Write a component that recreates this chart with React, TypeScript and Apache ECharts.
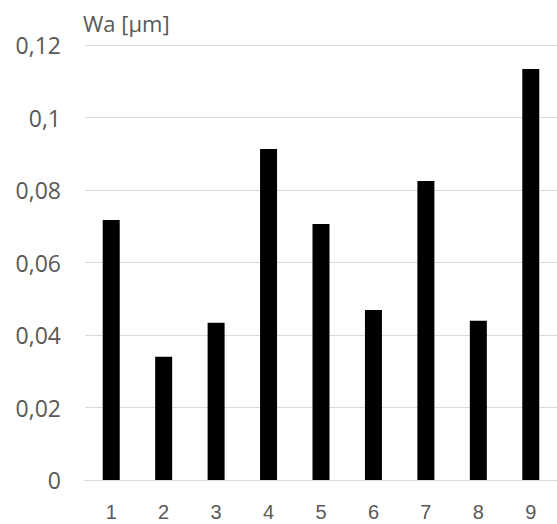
import React, { useEffect, useRef } from "react";
import * as echarts from "echarts";

const categories = ["1", "2", "3", "4", "5", "6", "7", "8", "9"];
const waValues = [0.0717, 0.034, 0.0434, 0.0913, 0.0706, 0.0469, 0.0825, 0.0439, 0.1134];
const yTicks = [0, 0.02, 0.04, 0.06, 0.08, 0.1, 0.12];
const axisTitle = "Wa [µm]";

const FONT = "'Open Sans', 'Noto Sans', sans-serif";
const TEXT_COLOR = "#595959";

export default function App() {
  const ref = useRef<HTMLDivElement>(null);
  useEffect(() => {
    if (!ref.current) return;
    const chart = echarts.init(ref.current, undefined, { renderer: "svg" });
    chart.setOption({
      animation: false,
      backgroundColor: "#ffffff",
      grid: { left: 85, right: 0, top: 45, bottom: 44, containLabel: false },
      graphic: [
        {
          type: "text",
          left: 83,
          top: 12,
          style: { text: axisTitle, fontSize: 22, fill: TEXT_COLOR, fontFamily: FONT },
        },
      ],
      xAxis: {
        type: "category",
        data: categories,
        axisLine: { show: true, lineStyle: { color: "#d9d9d9", width: 1 } },
        axisTick: { show: false },
        axisLabel: {
          color: TEXT_COLOR,
          fontSize: 20,
          lineHeight: 20,
          fontFamily: "'Liberation Sans', Arial, sans-serif",
          margin: 22,
        },
      },
      yAxis: {
        type: "value",
        min: yTicks[0],
        max: yTicks[yTicks.length - 1],
        interval: 0.02,
        axisLine: { show: false },
        axisTick: { show: false },
        splitLine: { show: true, lineStyle: { color: "#d9d9d9", width: 1 } },
        axisLabel: {
          color: TEXT_COLOR,
          fontSize: 23,
          fontFamily: FONT,
          margin: 24,
          formatter: (v: number) => String(Math.round(v * 100) / 100).replace(".", ","),
        },
      },
      series: [
        {
          type: "bar",
          data: waValues,
          barWidth: 17,
          itemStyle: { color: "#000000" },
        },
      ],
    });
    return () => chart.dispose();
  }, []);
  return (
    <div
      ref={ref}
      style={{ position: "fixed", left: 0, top: 0, width: 557, height: 524, background: "#fff" }}
    />
  );
}
